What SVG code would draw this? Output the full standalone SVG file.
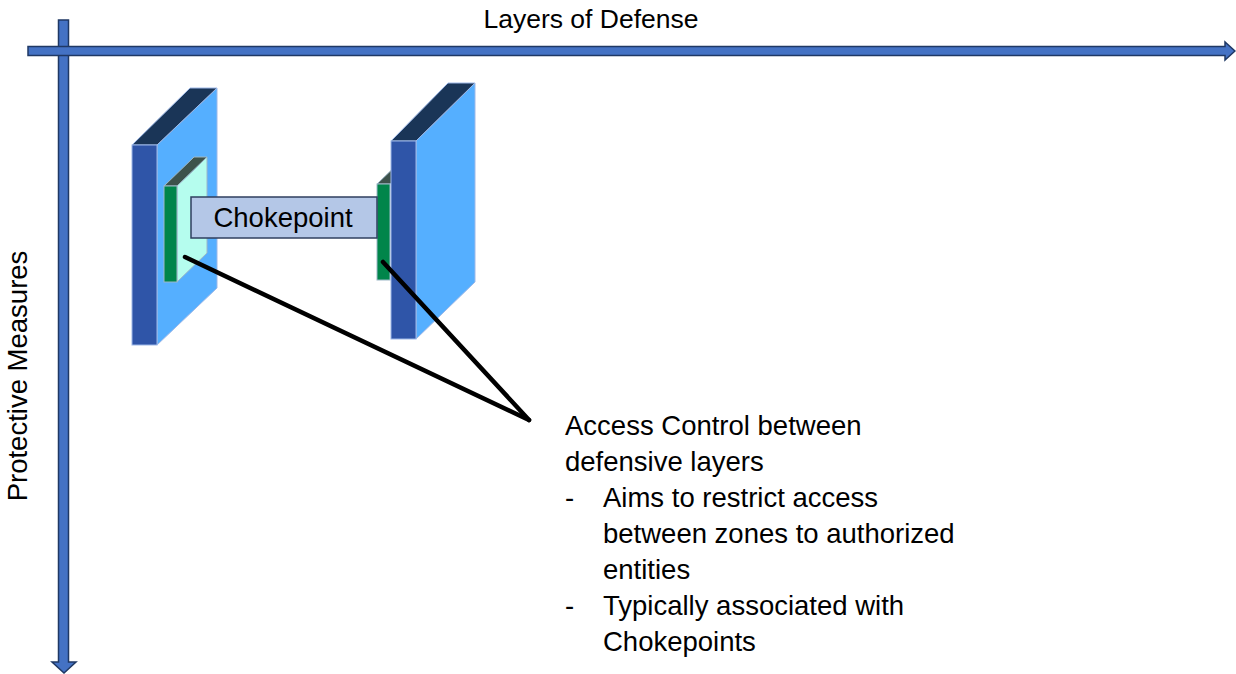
<svg xmlns="http://www.w3.org/2000/svg" width="1236" height="674" viewBox="0 0 1236 674">
<style>
  .txt { font-family: "Liberation Sans", Arial, sans-serif; fill: #000; }
  .axis { fill: #4472C4; stroke: #1F3864; stroke-width: 1.5; stroke-linejoin: miter; }
  .front { fill: #2F55A8; stroke: #9DB8E8; stroke-width: 1; }
  .side { fill: #55AFFF; stroke: #9DB8E8; stroke-width: 1; }
  .top { fill: #1A3557; stroke: #9DB8E8; stroke-width: 1; }
  .gfront { fill: #00854A; stroke: #9DB8C8; stroke-width: 1; }
  .gside { fill: #B5FDEE; stroke: #9DB8C8; stroke-width: 1; }
  .gtop { fill: #3D524B; stroke: #9DB8C8; stroke-width: 1; }
  .box { fill: #B4C7E7; stroke: #2F3F5F; stroke-width: 1.5; }
  .ptr { stroke: #000; stroke-width: 4.5; stroke-linecap: round; fill: none; }
</style>
<rect width="1236" height="674" fill="#fff"/>

<g id="axis-y">
  <polygon class="axis" points="58.5,20 68.5,20 68.5,662 76,662 64,673 52,662 58.5,662"/>
  <text class="txt" font-size="27.5" transform="translate(27,376) rotate(-90)" text-anchor="middle">Protective Measures</text>
</g>
<g id="axis-x">
  <polygon class="axis" points="28,46.5 1225,46.5 1225,42 1235,51 1225,60 1225,55.5 28,55.5"/>
  <text class="txt" font-size="26.5" x="591" y="28" text-anchor="middle">Layers of Defense</text>
</g>

<g id="wall-left">
  <polygon class="side" points="157,145 217,88 217,288 157,345"/>
  <polygon class="top" points="132,145 190,88 217,88 157,145"/>
  <rect class="front" x="132" y="145" width="25" height="200"/>
  <g id="gate-left">
    <polygon class="gside" points="177,186 207,157 207,253 177,282"/>
    <polygon class="gtop" points="164,186 194,157 207,157 177,186"/>
    <rect class="gfront" x="164" y="186" width="13" height="96"/>
  </g>
</g>

<g id="wall-right">
  <g id="gate-right">
    <polygon class="gtop" points="377,184 406,156 419,156 390,184"/>
    <rect class="gfront" x="377" y="184" width="13" height="96"/>
  </g>
  <polygon class="side" points="416,141 475,83 475,282 416,339"/>
  <polygon class="top" points="391,141 448,83 475,83 416,141"/>
  <rect class="front" x="391" y="141" width="25" height="198"/>
</g>

<g id="chokepoint">
  <rect class="box" x="191" y="197" width="186" height="41"/>
  <text class="txt" font-size="27.5" x="283" y="227" text-anchor="middle">Chokepoint</text>
</g>

<g id="connectors">
  <line class="ptr" x1="185" y1="257" x2="529" y2="420"/>
  <line class="ptr" x1="383" y1="262" x2="529" y2="420"/>
</g>

<g id="callout">
  <text class="txt" font-size="27.5">
    <tspan x="565" y="435">Access Control between</tspan>
    <tspan x="565" y="471">defensive layers</tspan>
    <tspan x="565" y="507">-</tspan>
    <tspan x="603" y="507">Aims to restrict access</tspan>
    <tspan x="603" y="543">between zones to authorized</tspan>
    <tspan x="603" y="579">entities</tspan>
    <tspan x="565" y="615">-</tspan>
    <tspan x="603" y="615">Typically associated with</tspan>
    <tspan x="603" y="651">Chokepoints</tspan>
  </text>
</g>
</svg>
